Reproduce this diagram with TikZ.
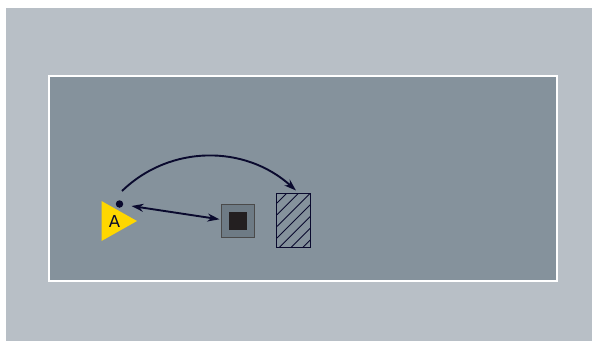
\documentclass[tikz,border=0pt]{standalone}
\usepackage{fontspec}
\setmainfont{DejaVu Sans}
\usetikzlibrary{arrows.meta}
\definecolor{outerbg}{HTML}{B8BFC6}
\definecolor{innerbg}{HTML}{85929C}
\definecolor{navy}{HTML}{0A0A2E}
\definecolor{boxfill}{HTML}{6E7B85}
\definecolor{boxline}{HTML}{4A4A4A}
\definecolor{core}{HTML}{231F20}
\definecolor{tri}{HTML}{FFD700}
\tikzset{
  conn/.style={draw=navy,line width=1.9pt,-{Stealth[length=12pt,width=8pt]}},
  connboth/.style={draw=navy,line width=1.9pt,{Stealth[length=12pt,width=8pt]}-{Stealth[length=12pt,width=8pt]}},
  hatchline/.style={draw=navy,line width=0.9pt},
}
\begin{document}
\begin{tikzpicture}[x=1pt,y=-1pt]
\useasboundingbox (0,0) rectangle (592,341);
\fill[white] (0,0) rectangle (592,341);
\fill[outerbg] (6,8) rectangle (592,341);
\draw[white,line width=1.8pt,fill=innerbg] (48.7,75.7) rectangle (557.3,281);
% triangle
\fill[tri] (101.5,201) -- (137,221) -- (101.5,241) -- cycle;
\node[font=\fontsize{16.5}{18}\selectfont,text=navy,inner sep=0pt] (labelA) at (114.5,221) {A};
\node[circle,fill=navy,inner sep=0pt,minimum size=7.5pt] (dot) at (119.5,204) {};
% square
\node[draw=boxline,fill=boxfill,line width=0.9pt,minimum size=33pt,inner sep=0pt] (box) at (237.5,220.5) {};
\node[fill=core,minimum size=18pt,inner sep=0pt] (corebox) at (237.5,220.5) {};
% hatched
\node[minimum width=33pt,minimum height=53pt,inner sep=0pt] (hatch) at (293.5,220.5) {};
\begin{scope}
\clip (hatch.north west) rectangle (hatch.south east);
\foreach \k in {0,1,...,6}
  \draw[hatchline] (277,{203+\k*11.7}) -- ++(60,-60);
\end{scope}
\draw[navy,line width=0.9pt] (hatch.north west) rectangle (hatch.south east);
% connectors
\coordinate (arcstart) at (122,191);
\coordinate (arcend) at (296,190.5);
\coordinate (arrowleft) at (131.5,206);
\coordinate (arrowright) at (219.5,219.3);
\draw[conn] (arcstart) .. controls (170,144.5) and (245,144.5) .. (arcend);
\draw[connboth] (arrowleft) -- (arrowright);
\end{tikzpicture}
\end{document}
